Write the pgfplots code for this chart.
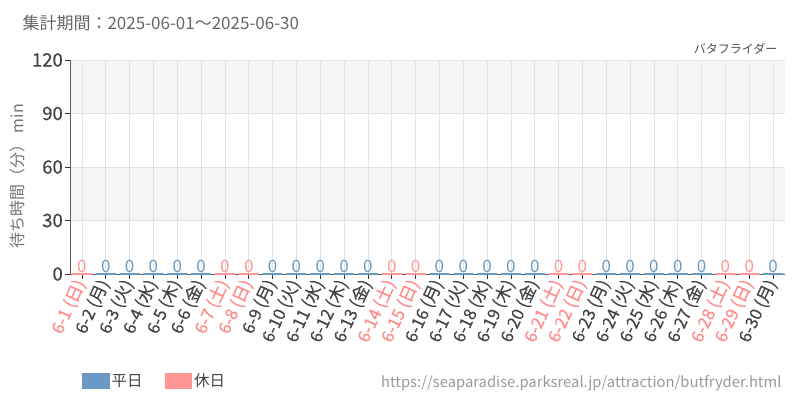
\documentclass[border=0pt]{standalone}
\usepackage{fontspec}
\setmainfont{Noto Sans CJK JP}
\newfontfamily\medfont[FakeBold=0.6]{Noto Sans CJK JP}
\newfontfamily\lblfont[FakeBold=0.3]{Noto Sans CJK JP}
\usepackage{pgfplots}
\pgfplotsset{compat=1.18}
\definecolor{wkday}{HTML}{6A9AC4}
\definecolor{wkend}{HTML}{FF9696}
\definecolor{wkendtxt}{HTML}{FF8A8A}
\definecolor{txt}{HTML}{444444}
\definecolor{band}{HTML}{F5F5F5}
\definecolor{gridc}{HTML}{E3E3E3}
\newcommand{\we}[1]{\textcolor{wkendtxt}{#1}}

\begin{document}
\begin{tikzpicture}
\node[anchor=west, text=black!60, font=\fontsize{17}{20}\selectfont] at (19pt,377pt) {集計期間：2025-06-01～2025-06-30};
\node[anchor=east, text=black!70, font=\fontsize{12}{15}\selectfont] at (781pt,351pt) {バタフライダー};
\node[anchor=east, text=black!40, font=\fontsize{14.8}{17}\selectfont] at (785pt,17pt) {https://seaparadise.parksreal.jp/attraction/butfryder.html};
\begin{axis}[
  set layers,
  scale only axis, width=715pt, height=214pt,
  at={(70pt,126pt)}, anchor=south west,
  xmin=-0.5, xmax=29.5, ymin=0, ymax=120,
  ytick={0,30,60,90,120},
  xtick={0,...,29},
  xticklabels={{\we{6-1 (日)}},6-2 (月),6-3 (火),6-4 (水),6-5 (木),6-6 (金),{\we{6-7 (土)}},{\we{6-8 (日)}},
    6-9 (月),6-10 (火),6-11 (水),6-12 (木),6-13 (金),{\we{6-14 (土)}},{\we{6-15 (日)}},
    6-16 (月),6-17 (火),6-18 (水),6-19 (木),6-20 (金),{\we{6-21 (土)}},{\we{6-22 (日)}},
    6-23 (月),6-24 (火),6-25 (水),6-26 (木),6-27 (金),{\we{6-28 (土)}},{\we{6-29 (日)}},6-30 (月)},
  /pgf/number format/assume math mode=true,
  axis x line=bottom, axis y line=left,
  axis line style={-, black!65, line width=0.8pt},
  tick align=outside, major tick length=5pt,
  tick style={black!80, line width=0.8pt},
  grid=major, major grid style={gridc, line width=0.8pt},
  yticklabel style={text=txt, font=\medfont\fontsize{18.5}{21}\selectfont, inner sep=2pt},
  xticklabel style={text=txt, font=\lblfont\fontsize{17}{19}\selectfont, rotate=65, anchor=east, inner sep=2pt},
  ylabel={待ち時間（分） min},
  ylabel style={text=black!55, font=\fontsize{16}{18}\selectfont, at={(axis description cs:-0.073,0.456)}, anchor=center},
  ybar, bar width=20pt, bar shift=0pt,
  nodes near coords,
  nodes near coords style={font=\fontsize{17}{19}\selectfont, anchor=south, inner sep=0.5pt, yshift=0.5pt},
  legend columns=2,
  legend style={draw=none, fill=none, at={(axis description cs:0.0125,-0.5)}, anchor=west,
    font=\fontsize{15.5}{18}\selectfont, text=txt,
    /tikz/every even column/.append style={column sep=20pt}},
  legend image code/.code={\fill[#1] (0pt,-7pt) rectangle (26pt,7pt);},
]
\begin{pgfonlayer}{axis background}
\fill[band] (axis cs:-0.5,90) rectangle (axis cs:29.5,120);
\fill[band] (axis cs:-0.5,30) rectangle (axis cs:29.5,60);
\end{pgfonlayer}
\addplot[fill=wkday, draw=wkday, line width=1.5pt, nodes near coords style={text=wkday}] coordinates {
  (1,0) (2,0) (3,0) (4,0) (5,0) (8,0) (9,0) (10,0) (11,0) (12,0)
  (15,0) (16,0) (17,0) (18,0) (19,0) (22,0) (23,0) (24,0) (25,0) (26,0) (29,0)};
\addlegendentry{平日}
\addplot[fill=wkend, draw=wkend, line width=1.5pt, nodes near coords style={text=wkend}] coordinates {
  (0,0) (6,0) (7,0) (13,0) (14,0) (20,0) (21,0) (27,0) (28,0)};
\addlegendentry{休日}
\end{axis}
\pgfresetboundingbox
\path[use as bounding box] (0pt,0pt) rectangle (800pt,400pt);
\end{tikzpicture}
\end{document}
